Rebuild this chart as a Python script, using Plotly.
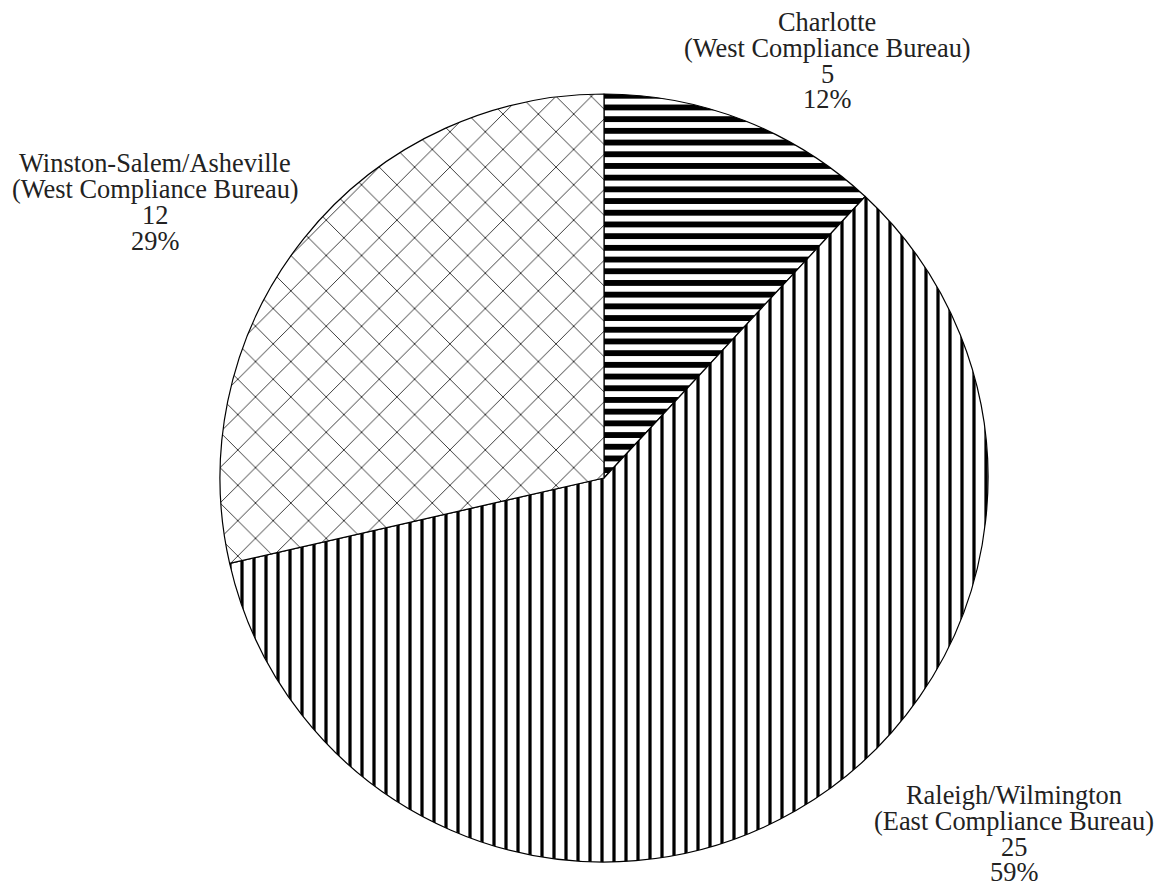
import plotly.graph_objects as go

# Data
regions = ["Charlotte", "Raleigh/Wilmington", "Winston-Salem/Asheville"]
bureaus = ["(West Compliance Bureau)", "(East Compliance Bureau)", "(West Compliance Bureau)"]
counts = [5, 25, 12]
pct_labels = ["12%", "59%", "29%"]

W, H = 1164, 888
OFF = 8  # page body margin offset in screenshot pixels


def px_x(x):
    return (x - OFF) / W


def px_y(y):
    return 1 - (y - OFF) / H


fig = go.Figure()
fig.add_trace(go.Pie(
    labels=regions,
    values=counts,
    sort=False,
    direction="clockwise",
    rotation=0,
    textinfo="none",
    hoverinfo="label+value+percent",
    showlegend=False,
    marker=dict(
        colors=["white", "white", "white"],
        line=dict(color="black", width=1.2),
        pattern=dict(
            shape=["-", "|", "x"],
            size=[11.7, 12, 25],
            solidity=[0.5, 0.27, 0.06],
            fgcolor="black",
            bgcolor="white",
            fillmode="replace",
        ),
    ),
    domain=dict(x=[px_x(220), px_x(988)], y=[px_y(862), px_y(94)]),
))

# label positions (screenshot pixel centers) for each slice's text block
label_pos = {
    0: (827, [22, 48, 74, 99]),
    1: (1014, [795, 821, 847, 872]),
    2: (155, [163, 189, 215, 241]),
}
annotations = []
for i, (cx, ys) in label_pos.items():
    lines = [regions[i], bureaus[i], str(counts[i]), pct_labels[i]]
    for txt, y in zip(lines, ys):
        annotations.append(dict(
            x=px_x(cx), y=px_y(y), xref="paper", yref="paper",
            text=txt, showarrow=False, xanchor="center", yanchor="middle",
            font=dict(family="Liberation Serif", size=26.4, color="#222222"),
        ))

fig.update_layout(
    width=W, height=H,
    margin=dict(l=0, r=0, t=0, b=0),
    paper_bgcolor="white",
    plot_bgcolor="white",
    annotations=annotations,
)

fig.write_html("out.html")
